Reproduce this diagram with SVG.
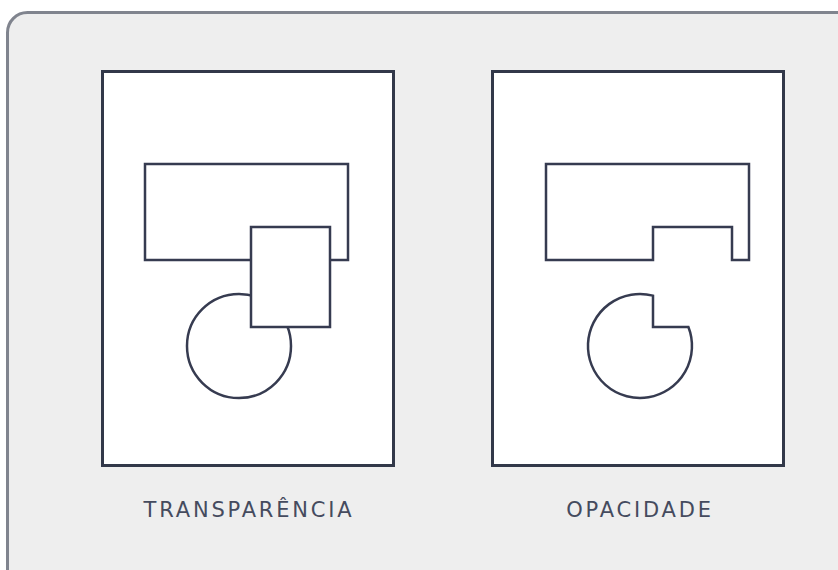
<svg xmlns="http://www.w3.org/2000/svg" width="838" height="570" viewBox="0 0 838 570">
<style>
.panel{fill:#ffffff;stroke:#323849;stroke-width:3}
.shape{fill:#ffffff;stroke:#363b50;stroke-width:2.5;stroke-linejoin:miter}
.label{font-family:"DejaVu Sans",Verdana,sans-serif;font-size:21px;fill:#454b5e;letter-spacing:2.8px;text-anchor:middle}
</style>
<rect x="0" y="0" width="838" height="570" fill="#ffffff"/>
<rect id="frame" x="7.5" y="12.5" width="850" height="580" rx="20" ry="20" fill="#eeeeee" stroke="#80848e" stroke-width="3"/>
<g id="transparencia">
<rect class="panel" x="102.5" y="71.5" width="291" height="394"/>
<rect class="shape" x="145" y="164" width="203" height="96"/>
<circle class="shape" cx="239" cy="346" r="52"/>
<rect class="shape" x="251" y="227" width="79" height="100"/>
<text class="label" x="249" y="517">TRANSPARÊNCIA</text>
</g>
<g id="opacidade">
<rect class="panel" x="492.5" y="71.5" width="291" height="394"/>
<path class="shape" d="M546 164 H749 V260 H732 V227 H653 V260 H546 Z"/>
<path class="shape" d="M653 295.6 V327 H688.4 A52 52 0 1 1 653 295.6 Z"/>
<text class="label" x="640" y="517">OPACIDADE</text>
</g>
<g id="connectors"/>
</svg>
